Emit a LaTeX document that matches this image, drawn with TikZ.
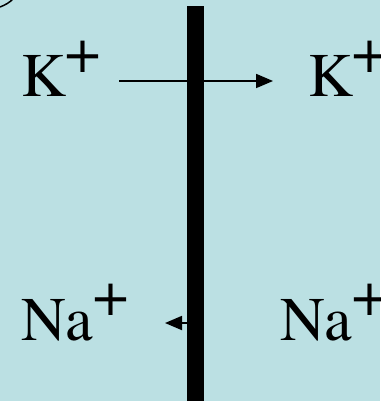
\documentclass[tikz,border=0pt]{standalone}
\usepackage[T1]{fontenc}
\usepackage{mathptmx}
\usetikzlibrary{arrows.meta}
\definecolor{bgc}{HTML}{BBE0E3}
\newcommand{\ionplus}{\raisebox{0.39em}{+}}
\tikzset{
  ion/.style={anchor=base west, inner sep=0pt, font=\fontsize{62}{62}\selectfont},
  flux/.style={line width=1.8pt, -{Triangle[length=17pt,width=14pt]}},
}
\begin{document}
\begin{tikzpicture}[x=1pt,y=-1pt]
\fill[bgc] (0,0) rectangle (380,401);
\useasboundingbox (0,0) rectangle (380,401);
\draw[line width=1.5pt] (0,7) .. controls (5,5) and (9,3) .. (13,-1);
\node[ion] (kl) at (21,97) {K\ionplus};
\node[ion] (kr) at (308,97) {K\ionplus};
\node[ion] (nal) at (21,340) {Na\ionplus};
\node[ion] (nar) at (280,340) {Na\ionplus};
\coordinate (ka) at (119,81);
\coordinate (kb) at (273,81);
\coordinate (na) at (195,323);
\coordinate (nb) at (165,323);
\draw[flux] (ka) -- (kb);
\draw[flux] (na) -- (nb);
\fill[black] (187,6) rectangle (204,402);
\end{tikzpicture}
\end{document}
